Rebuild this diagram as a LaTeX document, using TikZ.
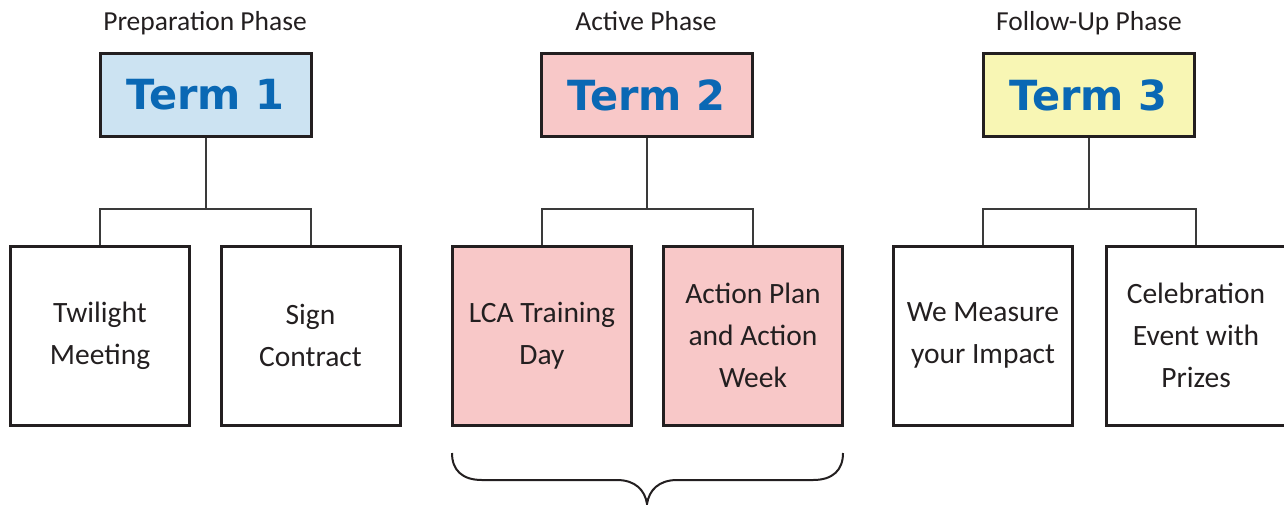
\documentclass[tikz,border=0pt]{standalone}
\usepackage{fontspec}
\setmainfont{Carlito}
\newfontfamily\termfont{DejaVu Sans}
\definecolor{inkc}{HTML}{231F20}
\definecolor{linec}{HTML}{3A3A3A}
\definecolor{termblue}{HTML}{0A68B4}
\definecolor{fillblue}{HTML}{CCE3F2}
\definecolor{fillpink}{HTML}{F8C8C8}
\definecolor{fillyellow}{HTML}{F8F6B4}
\tikzset{
  termbox/.style={draw=inkc, line width=3pt, minimum width=211pt, minimum height=83pt,
    inner sep=0pt, font=\termfont\bfseries\fontsize{41.5}{41.5}\selectfont, text=termblue},
  childbox/.style={draw=inkc, line width=3pt, minimum width=179pt, minimum height=179pt,
    inner sep=0pt, align=center, font=\fontsize{29.5}{42}\selectfont, text=inkc},
  phaselabel/.style={inner sep=0pt, anchor=base, font=\fontsize{27.5}{30}\selectfont, text=inkc},
  conn/.style={draw=linec, line width=2pt},
  bracec/.style={draw=inkc, line width=2pt}
}
\begin{document}
\begin{tikzpicture}[x=1pt,y=-1pt]
\useasboundingbox (0,0) rectangle (1284,504);
\clip (0,0) rectangle (1284,504);
% phase labels
\node[phaselabel] (p1) at (205,30) {Preparation Phase};
\node[phaselabel] (p2) at (646,30) {Active Phase};
\node[phaselabel] (p3) at (1089,30) {Follow-Up Phase};
% term boxes
\node[termbox, fill=fillblue] (t1) at (205.5,95) {Term 1};
\node[termbox, fill=fillpink] (t2) at (646.5,95) {Term 2};
\node[termbox, fill=fillyellow] (t3) at (1088.5,95) {Term 3};
% child boxes
\node[childbox] (c1) at (100,335.5) {Twilight\\Meeting};
\node[childbox] (c2) at (310.5,335.5) {Sign\\Contract};
\node[childbox, fill=fillpink] (c3) at (542,335.5) {LCA Training\\Day};
\node[childbox, fill=fillpink] (c4) at (753,335.5) {Action Plan\\and Action\\Week};
\node[childbox] (c5) at (983,335.5) {We Measure\\your Impact};
\node[childbox] (c6) at (1196,335.5) {Celebration\\Event with\\Prizes};
% connectors
\coordinate (b1) at (205.5,209);
\coordinate (b2) at (646.5,209);
\coordinate (b3) at (1088.5,209);
\draw[conn] (t1.south) -- (b1);
\draw[conn] (c1.north) -- (c1.north |- b1) -- (c2.north |- b1) -- (c2.north);
\draw[conn] (t2.south) -- (b2);
\draw[conn] (c3.north) -- (c3.north |- b2) -- (c4.north |- b2) -- (c4.north);
\draw[conn] (t3.south) -- (b3);
\draw[conn] (c5.north) -- (c5.north |- b3) -- (c6.north |- b3) -- (c6.north);
% brace
\coordinate (brL) at (452,453);
\coordinate (brR) at (843,453);
\coordinate (brT) at (647,504);
\draw[bracec] (brL) .. controls (452,470) and (462,480) .. (482,480) -- (617,480)
  .. controls (635,480) and (645,490) .. (brT)
  .. controls (649,490) and (659,480) .. (677,480) -- (813,480)
  .. controls (833,480) and (843,470) .. (brR);
\end{tikzpicture}
\end{document}
